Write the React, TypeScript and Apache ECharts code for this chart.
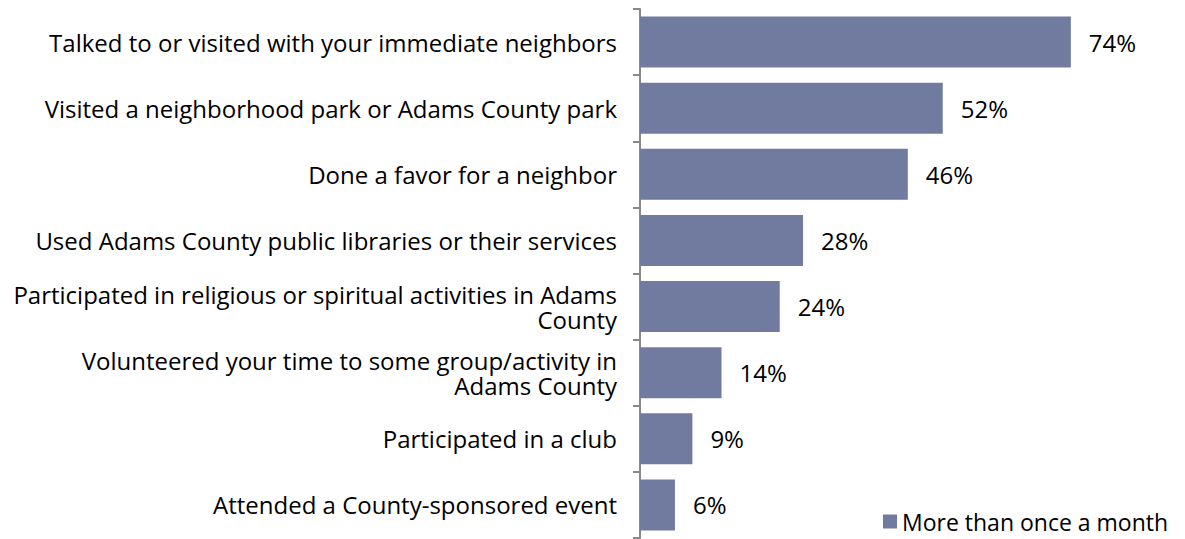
import React, { useEffect, useRef } from "react";
import * as echarts from "echarts";

const categories = [
  "Talked to or visited with your immediate neighbors",
  "Visited a neighborhood park or Adams County park",
  "Done a favor for a neighbor",
  "Used Adams County public libraries or their services",
  "Participated in religious or spiritual activities in Adams\nCounty",
  "Volunteered your time to some group/activity in\nAdams County",
  "Participated in a club",
  "Attended a County-sponsored event",
];
const values = [74, 52, 46, 28, 24, 14, 9, 6];
const seriesName = "More than once a month";

export default function App() {
  const ref = useRef<HTMLDivElement>(null);
  useEffect(() => {
    if (!ref.current) return;
    const chart = echarts.init(ref.current, undefined, { renderer: "svg" });
    const font = "'Open Sans', sans-serif";
    chart.setOption({
      animation: false,
      textStyle: { fontFamily: font },
      grid: { left: 632, top: 1, width: 524, bottom: 1, containLabel: false },
      legend: {
        data: [seriesName],
        left: 870,
        bottom: 1,
        itemWidth: 14,
        itemHeight: 14,
        itemGap: 6,
        padding: [5, 0, 5, 5],
        textStyle: { fontSize: 23, color: "#000", fontFamily: font },
        icon: "rect",
      },
      xAxis: {
        type: "value",
        min: 0,
        max: 90,
        show: false,
      },
      yAxis: {
        type: "category",
        inverse: true,
        data: categories,
        axisLine: { show: true, lineStyle: { color: "#888", width: 2 } },
        axisTick: { show: true, length: 7, lineStyle: { color: "#888", width: 2 } },
        axisLabel: {
          fontSize: 24,
          color: "#000",
          margin: 23,
          align: "right",
          lineHeight: 25,
          fontFamily: font,
        },
      },
      series: [
        {
          name: seriesName,
          type: "bar",
          data: values,
          barCategoryGap: "23%",
          itemStyle: { color: "#717BA0" },
          label: {
            show: true,
            position: "right",
            distance: 18,
            formatter: "{c}%",
            fontSize: 24,
            color: "#000",
            fontFamily: font,
          },
        },
      ],
    });
    return () => chart.dispose();
  }, []);
  return <div ref={ref} style={{ width: 1177, height: 531 }} />;
}
